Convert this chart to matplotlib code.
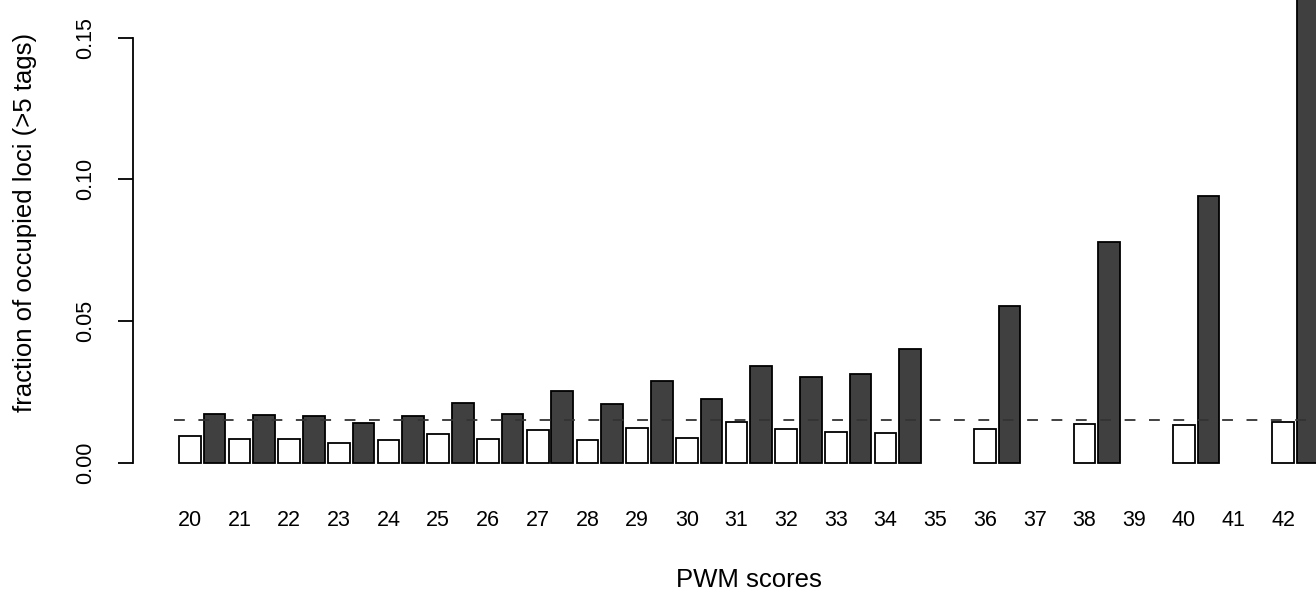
import matplotlib
matplotlib.use("Agg")
import matplotlib.pyplot as plt

plt.rcParams['font.family'] = ['Liberation Sans', 'DejaVu Sans']

scores = [20, 21, 22, 23, 24, 25, 26, 27, 28, 29, 30, 31, 32, 33, 34, 36, 38, 40, 42]
background = [0.0093, 0.0084, 0.0084, 0.0068, 0.0080, 0.0100, 0.0084, 0.0115, 0.0081, 0.0122,
              0.0087, 0.0142, 0.0119, 0.0110, 0.0104, 0.0118, 0.0136, 0.0132, 0.0144]
occupied = [0.0172, 0.0167, 0.0166, 0.0141, 0.0164, 0.0212, 0.0173, 0.0253, 0.0207, 0.0287,
            0.0224, 0.0342, 0.0301, 0.0312, 0.0401, 0.0553, 0.0779, 0.0940, 0.1900]
label_scores = list(range(20, 43))
y_ticks = [0.00, 0.05, 0.10, 0.15]
threshold = 0.015

W, H = 1316, 590
fig = plt.figure(figsize=(W / 100, H / 100), dpi=100)

# axes placed in pixels
left_px, right_px, top_px, bottom_px = 174, 1316, 0, 475
ax = fig.add_axes([left_px / W, 1 - bottom_px / H, (right_px - left_px) / W, (bottom_px - top_px) / H])

px_per_x = 49.70
px_per_y = 2833.0
zero_px = 462.7
ax.set_xlim(20 - (189.8 - left_px) / px_per_x, 20 + (right_px - 189.8) / px_per_x)
ax.set_ylim(-(bottom_px - zero_px) / px_per_y, (zero_px - top_px) / px_per_y)

bw = 0.437
ax.bar(scores, background, width=bw, color='white', edgecolor='black', linewidth=1.3, zorder=2)
ax.bar([s + 0.495 for s in scores], occupied, width=bw, color='#404040', edgecolor='black',
       linewidth=1.3, zorder=2)
ax.axhline(threshold, color='#333333', linewidth=1.3, linestyle=(0, (6, 7.5)), zorder=3)

for side in ['top', 'right', 'bottom']:
    ax.spines[side].set_visible(False)
ax.spines['left'].set_position(('outward', 41 * 0.72))
ax.spines['left'].set_bounds(0, 0.15)
ax.spines['left'].set_linewidth(1.3)

ax.set_yticks(y_ticks)
ax.set_yticklabels(['%.2f' % v for v in y_ticks], rotation=90, va='center', fontsize=15.5)
ax.tick_params(axis='y', length=15 * 0.72, width=1.3, pad=16)

ax.set_xticks(label_scores)
ax.set_xticklabels([str(s) for s in label_scores], fontsize=15.5)
ax.tick_params(axis='x', length=0, pad=25.5)

fig.text(25 / W, 1 - 222 / H, 'fraction of occupied loci (>5 tags)', rotation=90,
         ha='center', va='center', fontsize=18.5)
fig.text(749 / W, 1 - 580 / H, 'PWM scores', ha='center', va='center', fontsize=18.5)

fig.savefig('out.png', dpi=100)
